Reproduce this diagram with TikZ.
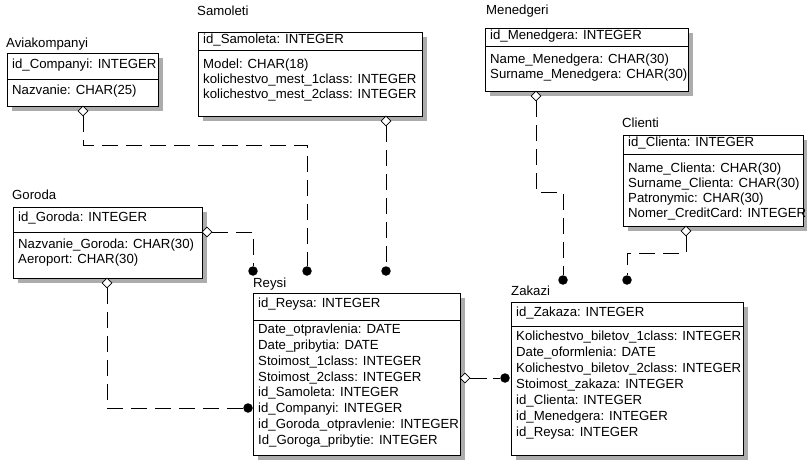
\documentclass[tikz,border=0pt]{standalone}
\usepackage{fontspec}
\setmainfont{Liberation Sans}
\usetikzlibrary{shapes.geometric,shadows}
\begin{document}
\begin{tikzpicture}[x=1pt,y=-1pt,
  tbl/.style={draw=black, fill=white, line width=1pt, inner sep=0pt, anchor=north west,
    general shadow={fill=gray!65, shadow xshift=4pt, shadow yshift=-4pt}},
  divl/.style={draw=black, line width=1pt},
  txt/.style={anchor=mid west, inner sep=0pt, font=\fontsize{13.2}{16}\selectfont},
  dia/.style={diamond, draw=black, fill=white, inner sep=0pt, minimum width=10pt, minimum height=10pt, line width=0.8pt},
  blt/.style={circle, fill=black, inner sep=0pt, minimum size=9.5pt},
  rel/.style={draw=black, line width=1pt, dash pattern=on 16pt off 8pt}]
\useasboundingbox (0,0) rectangle (807,459);

% ---------- Aviakompanyi
\node[txt] (t-avia) at (6,45) {Aviakompanyi};
\node[tbl, minimum width=151pt, minimum height=53pt] (avia) at (7,53) {};
\draw[divl] (avia.west |- 0,79) -- (avia.east |- 0,79);
\node[txt] (avia-k) at (12,66) {id\_Companyi: INTEGER};
\node[txt] (avia-1) at (12,92) {Nazvanie: CHAR(25)};

% ---------- Samoleti
\node[txt] (t-samo) at (197,13) {Samoleti};
\node[tbl, minimum width=224pt, minimum height=84pt] (samo) at (198,32) {};
\draw[divl] (samo.west |- 0,50) -- (samo.east |- 0,50);
\node[txt] (samo-k) at (203,41) {id\_Samoleta: INTEGER};
\foreach \t [count=\i from 0] in {Model: CHAR(18), kolichestvo\_mest\_1class: INTEGER, kolichestvo\_mest\_2class: INTEGER}
  \node[txt] (samo-\i) at (203,{66+15*\i}) {\t};

% ---------- Menedgeri
\node[txt] (t-mene) at (486,12) {Menedgeri};
\node[tbl, minimum width=203pt, minimum height=63pt] (mene) at (485,28) {};
\draw[divl] (mene.west |- 0,46) -- (mene.east |- 0,46);
\node[txt] (mene-k) at (490,37) {id\_Menedgera: INTEGER};
\foreach \t [count=\i from 0] in {Name\_Menedgera: CHAR(30), Surname\_Menedgera: CHAR(30)}
  \node[txt] (mene-\i) at (490,{61+15*\i}) {\t};

% ---------- Clienti
\node[txt] (t-clie) at (622,125) {Clienti};
\node[tbl, minimum width=180pt, minimum height=91pt] (clie) at (623,135) {};
\draw[divl] (clie.west |- 0,154) -- (clie.east |- 0,154);
\node[txt] (clie-k) at (628,144) {id\_Clienta: INTEGER};
\foreach \t [count=\i from 0] in {Name\_Clienta: CHAR(30), Surname\_Clienta: CHAR(30), Patronymic: CHAR(30), Nomer\_CreditCard: INTEGER}
  \node[txt] (clie-\i) at (628,{170+15*\i}) {\t};

% ---------- Goroda
\node[txt] (t-goro) at (12,197) {Goroda};
\node[tbl, minimum width=189pt, minimum height=71pt] (goro) at (13,207) {};
\draw[divl] (goro.west |- 0,232) -- (goro.east |- 0,232);
\node[txt] (goro-k) at (18,219) {id\_Goroda: INTEGER};
\foreach \t [count=\i from 0] in {Nazvanie\_Goroda: CHAR(30), Aeroport: CHAR(30)}
  \node[txt] (goro-\i) at (18,{246+15*\i}) {\t};

% ---------- Reysi
\node[txt] (t-reys) at (253,285) {Reysi};
\node[tbl, minimum width=207pt, minimum height=162pt] (reys) at (253,293) {};
\draw[divl] (reys.west |- 0,320) -- (reys.east |- 0,320);
\node[txt] (reys-k) at (258,305) {id\_Reysa: INTEGER};
\foreach \t [count=\i from 0] in {Date\_otpravlenia: DATE, Date\_pribytia: DATE, Stoimost\_1class: INTEGER, Stoimost\_2class: INTEGER, id\_Samoleta: INTEGER, id\_Companyi: INTEGER, id\_Goroda\_otpravlenie: INTEGER, Id\_Goroga\_pribytie: INTEGER}
  \node[txt] (reys-\i) at (258,{331+15.8*\i}) {\t};

% ---------- Zakazi
\node[txt] (t-zaka) at (511,293) {Zakazi};
\node[tbl, minimum width=232pt, minimum height=153pt] (zaka) at (511,302) {};
\draw[divl] (zaka.west |- 0,326) -- (zaka.east |- 0,326);
\node[txt] (zaka-k) at (516,314) {id\_Zakaza: INTEGER};
\foreach \t [count=\i from 0] in {Kolichestvo\_biletov\_1class: INTEGER, Date\_oformlenia: DATE, Kolichestvo\_biletov\_2class: INTEGER, Stoimost\_zakaza: INTEGER, id\_Clienta: INTEGER, id\_Menedgera: INTEGER, id\_Reysa: INTEGER}
  \node[txt] (zaka-\i) at (516,{338+16*\i}) {\t};

% ---------- relationship ends
\node[dia] (d-avia) at (83,111) {};
\node[dia] (d-samo) at (386,121) {};
\node[dia] (d-goro1) at (207,232) {};
\node[dia] (d-goro2) at (107,283) {};
\node[dia] (d-mene) at (536,96) {};
\node[dia] (d-clie) at (686,231) {};
\node[dia] (d-reys) at (465,378) {};

\node[blt] (b-avia) at (307,271) {};
\node[blt] (b-samo) at (386,271) {};
\node[blt] (b-goro1) at (253,271) {};
\node[blt] (b-goro2) at (248,408) {};
\node[blt] (b-mene) at (563,280) {};
\node[blt] (b-clie) at (627,280) {};
\node[blt] (b-reys) at (505,378) {};

% ---------- connectors
\draw[rel] (d-avia.south) -- ++(0,29) -| (b-avia);
\draw[rel] (d-samo.south) -- (b-samo);
\draw[rel] (d-goro1.east) -| (b-goro1);
\draw[rel] (d-goro2.south) |- (b-goro2);
\draw[rel] (d-mene.south) -- ++(0,91) -| (b-mene);
\draw[rel] (d-clie.south) -- ++(0,17) -| (b-clie);
\draw[rel, dash pattern=on 17pt off 6pt] (d-reys.east) -- (b-reys);
\end{tikzpicture}
\end{document}
